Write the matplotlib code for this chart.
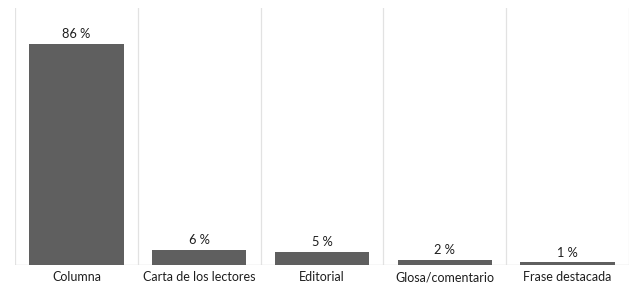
import matplotlib.pyplot as plt
import numpy as np

plt.rcParams['font.family'] = ['Lato', 'DejaVu Sans']

# Datos
categorias = ['Columna', 'Carta de los lectores', 'Editorial', 'Glosa/comentario', 'Frase destacada']
valores = [86, 6, 5, 2, 1]
etiquetas = ['86 %', '6 %', '5 %', '2 %', '1 %']

fig = plt.figure(figsize=(6.4, 2.97), dpi=100)
ax = fig.add_axes([0.0234, 0.1077, 0.9594, 0.865])

x = np.arange(len(categorias))
ax.bar(x, valores, width=0.77, color='#5f5f5f', zorder=3)

for xi, v, t in zip(x, valores, etiquetas):
    ax.text(xi, v + 1.5, t, ha='center', va='bottom', fontsize=9.2, color='#1e1e1e')

ax.set_xlim(-0.5, len(categorias) - 0.5)
ax.set_ylim(0, 100)

# Líneas verticales de separación
for b in np.arange(len(categorias) + 1) - 0.5:
    ax.axvline(b, color='#e2e2e2', linewidth=0.9, zorder=1)
ax.axhline(0, color='#d9d9d9', linewidth=1.0, zorder=2)

ax.set_xticks(x)
ax.set_xticklabels(categorias, fontsize=9, color='#1e1e1e')
ax.tick_params(axis='x', length=0, pad=4.5)
ax.set_yticks([])
for s in ax.spines.values():
    s.set_visible(False)

fig.savefig('out.png', dpi=100)
